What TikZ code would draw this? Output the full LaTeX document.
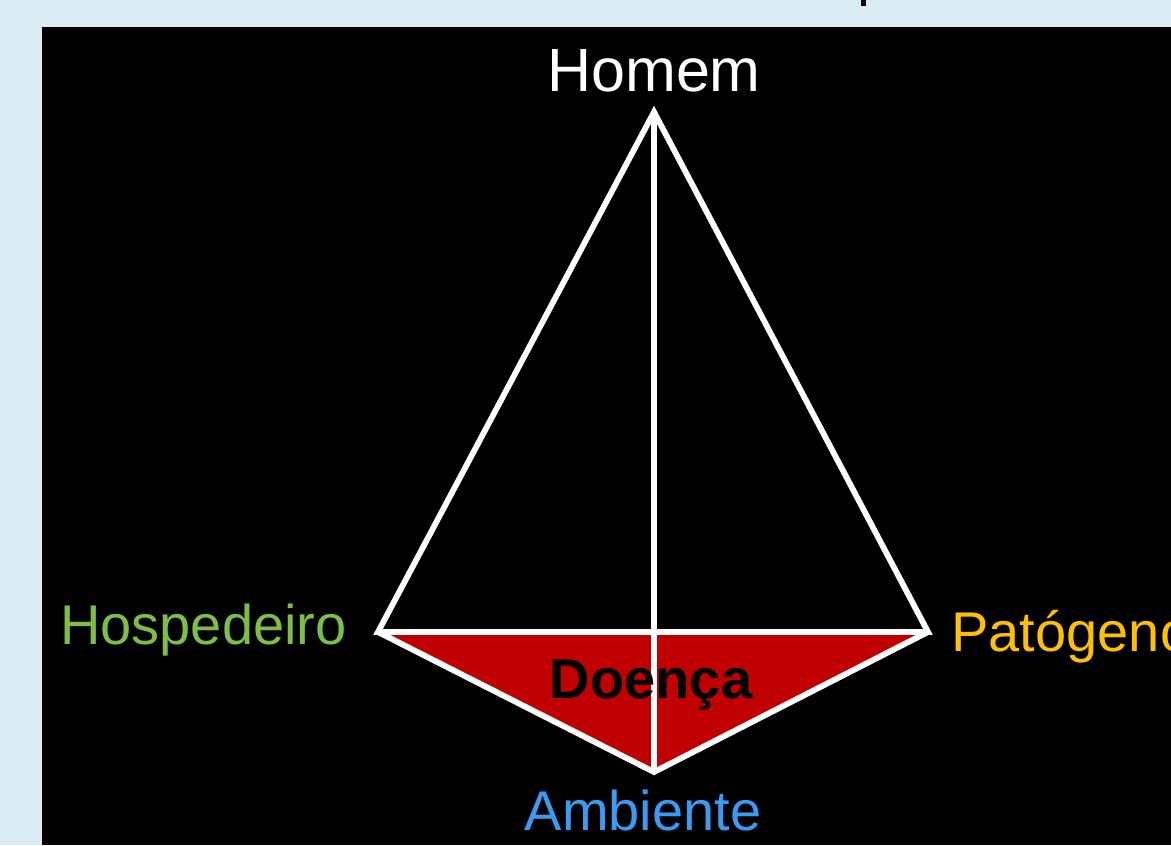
\documentclass[tikz,border=0pt]{standalone}
\usepackage{fontspec}
\setmainfont{Liberation Sans}
\usepackage{tikz}
\usetikzlibrary{positioning}

\definecolor{fundo}{HTML}{DAECF3}
\definecolor{verde}{HTML}{7CBF46}
\definecolor{ouro}{HTML}{FFC000}
\definecolor{azul}{HTML}{3A9BF2}
\definecolor{vermelho}{HTML}{C00000}

\begin{document}
\begin{tikzpicture}[x=0.5pt,y=-0.5pt]
\tikzset{L/.style={inner sep=0pt,font=\fontsize{28}{32}\selectfont},
         aresta/.style={draw=white,line width=2.9pt}}

  \clip (0,0) rectangle (1171,845);
  \fill[fundo] (0,0) rectangle (1171,845);
  \fill[black] (42,27) rectangle (1171,845);
  \fill[black] (861,0) rectangle (866,6);

  \coordinate (h) at (654,112);
  \coordinate (p1) at (378,632);
  \coordinate (p2) at (928,632);
  \coordinate (a) at (654,772);

  \fill[vermelho] (p1) -- (p2) -- (a) -- cycle;

  \draw[aresta] (h) -- (p1) -- (p2) -- cycle;
  \draw[aresta] (p1) -- (a) -- (p2);
  \draw[aresta] (h) -- (a);

  \node[L,anchor=base,text=white,font=\fontsize{30.5}{34}\selectfont] (homem) at (654,92) {Homem};
  \node[L,anchor=base east,text=verde] (hosp) at (347,644) {Hospedeiro};
  \node[L,anchor=base west,text=ouro] (pat) at (951,651) {Patógeno};
  \node[L,anchor=base,text=azul] (amb) at (643,830) {Ambiente};
  \node[L,anchor=base,text=black,font=\fontsize{28}{32}\selectfont\bfseries] (doenca) at (651,698) {Doença};
\end{tikzpicture}
\end{document}
